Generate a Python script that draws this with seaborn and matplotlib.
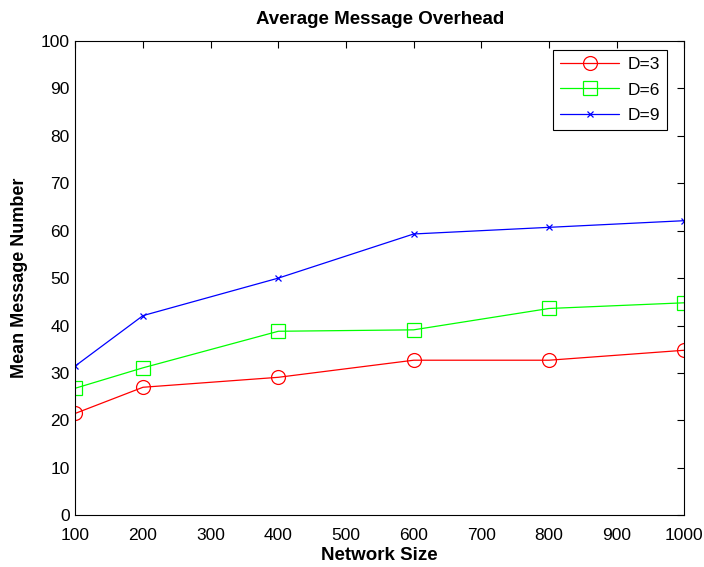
import matplotlib
matplotlib.use("Agg")
import matplotlib.pyplot as plt
import seaborn as sns
import pandas as pd

network_size = [100, 200, 400, 600, 800, 1000]
d3 = [21.5, 27.0, 29.1, 32.7, 32.7, 34.8]
d6 = [26.8, 31.1, 38.8, 39.1, 43.6, 44.8]
d9 = [31.5, 42.1, 50.0, 59.3, 60.7, 62.1]
series_labels = ["D=3", "D=6", "D=9"]
x_ticks = [100, 200, 300, 400, 500, 600, 700, 800, 900, 1000]
y_ticks = [0, 10, 20, 30, 40, 50, 60, 70, 80, 90, 100]

sns.set_style("white")
plt.rcParams["font.family"] = ["Liberation Sans", "DejaVu Sans"]
plt.rcParams["text.color"] = "black"
plt.rcParams["axes.labelcolor"] = "black"

fig = plt.figure(figsize=(7.04, 5.67), dpi=100)
ax = fig.add_axes([0.107, 0.091, 0.865, 0.837])

styles = [
    dict(color="#ff0000", marker="o", markersize=10),
    dict(color="#00ff00", marker="s", markersize=10),
    dict(color="#0000ff", marker="x", markersize=5),
]

for values, label, st in zip([d3, d6, d9], series_labels, styles):
    df = pd.DataFrame({"size": network_size, "msgs": values})
    sns.lineplot(data=df, x="size", y="msgs", ax=ax, label=label,
                 color=st["color"], marker=st["marker"], markersize=st["markersize"],
                 markerfacecolor="none", markeredgecolor=st["color"],
                 markeredgewidth=0.9, linewidth=0.9)

ax.set_xlim(100, 1000)
ax.set_ylim(0, 100)
ax.set_xticks(x_ticks)
ax.set_yticks(y_ticks)
ax.tick_params(direction="in", length=5, width=0.8, top=True, right=True,
               labelsize=12.5, colors="black")
ax.tick_params(axis="x", pad=9)
ax.tick_params(axis="y", pad=4)
for sp in ax.spines.values():
    sp.set_visible(True)
    sp.set_color("black")
    sp.set_linewidth(0.8)

ax.set_title("Average Message Overhead", fontsize=13.5, fontweight="bold",
             pad=12, color="black")
ax.set_xlabel("Network Size", fontsize=13.5, fontweight="bold", labelpad=3)
ax.set_ylabel("Mean Message Number", fontsize=13, fontweight="bold", labelpad=9)

leg = ax.legend(loc="upper right", bbox_to_anchor=(0.972, 0.981),
                numpoints=1, fontsize=12.5, frameon=True,
                fancybox=False, edgecolor="black", framealpha=1,
                handlelength=3.4, handletextpad=0.5, borderaxespad=0,
                labelspacing=0.6)
leg.get_frame().set_linewidth(0.8)
for t in leg.get_texts():
    t.set_color("black")

fig.savefig("out.png", dpi=100, facecolor="white")
